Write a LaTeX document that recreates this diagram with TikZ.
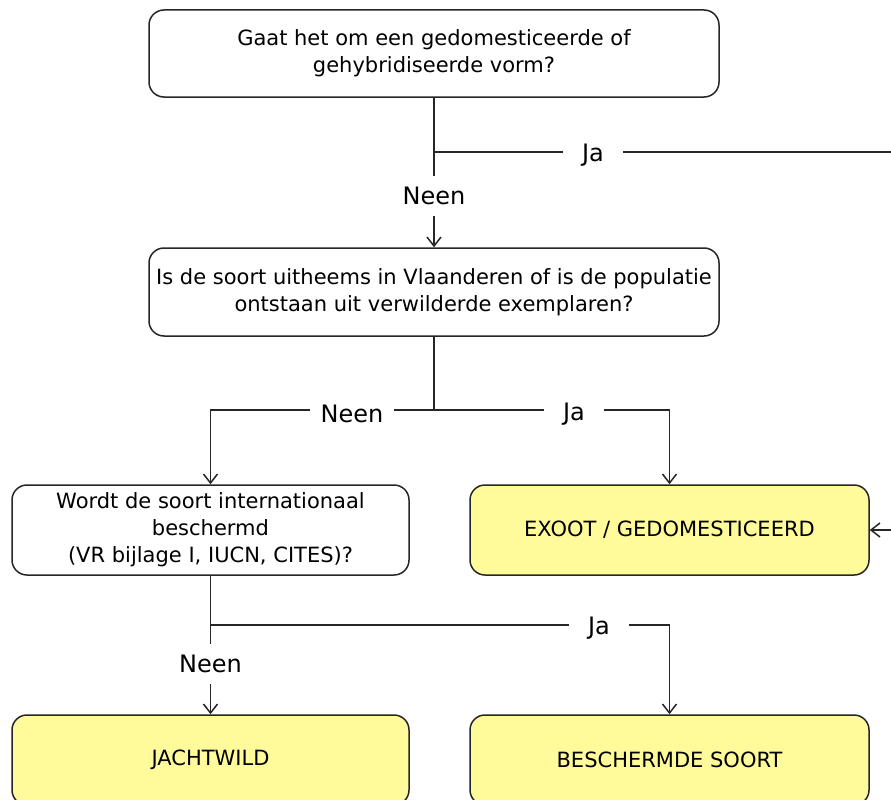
\documentclass[tikz,border=0pt]{standalone}
\usepackage{fontspec}
\setmainfont{DejaVu Sans}
\usetikzlibrary{positioning,arrows.meta}
\definecolor{geel}{HTML}{FFFB9A}

\begin{document}
\begin{tikzpicture}[x=1pt,y=-1pt,>={Straight Barb[length=9pt,width=14pt]},
  vraag/.style={draw=black!85,line width=1.5pt,rounded corners=15pt,align=center,
    inner sep=0pt,font=\fontsize{21}{27}\selectfont},
  uitkomst/.style={vraag,fill=geel},
  lbl/.style={fill=white,inner xsep=11pt,inner ysep=11pt,font=\fontsize{24}{26}\selectfont},
  ja/.style={lbl,inner xsep=19pt},
  pijl/.style={draw=black!85,line width=1.5pt}]
  \clip (0,0) rectangle (891,800);
  \fill[white] (0,0) rectangle (891,800);
  % vragen
  \node[vraag,minimum width=570pt,minimum height=87pt] (q1) at (434,53.5)
    {Gaat het om een gedomesticeerde of\\gehybridiseerde vorm?};
  \node[vraag,minimum width=570pt,minimum height=88pt] (q2) at (434,292)
    {Is de soort uitheems in Vlaanderen of is de populatie\\ontstaan uit verwilderde exemplaren?};
  \node[vraag,minimum width=397pt,minimum height=90pt] (q3) at (210.5,530)
    {Wordt de soort internationaal\\beschermd\\(VR bijlage I, IUCN, CITES)?};
  % uitkomsten
  \node[uitkomst,minimum width=399pt,minimum height=90pt] (exo) at (669.5,530)
    {EXOOT / GEDOMESTICEERD};
  \node[uitkomst,minimum width=397pt,minimum height=90pt] (jacht) at (210.5,760)
    {JACHTWILD};
  \node[uitkomst,minimum width=399pt,minimum height=90pt] (bes) at (669.5,760)
    {BESCHERMDE SOORT};
  % verbindingen
  \coordinate (s1) at (434,152);
  \coordinate (s2) at (434,410);
  \coordinate (s3) at (210.5,625);
  \draw[pijl,->] (q1.south) -- (q2.north);
  \draw[pijl,->] (s1) -- (910,152) -- (910,530) -- (exo.east);
  \draw[pijl] (q2.south) -- (s2);
  \draw[pijl,->] (s2) -| (q3.north);
  \draw[pijl,->] (s2) -| (exo.north);
  \draw[pijl,->] (q3.south) -- (jacht.north);
  \draw[pijl,->] (s3) -| (bes.north);
  % labels
  \node[lbl] (n1) at (434,196) {Neen};
  \node[ja] (j1) at (593,155) {Ja};
  \node[lbl] (n2) at (352,414) {Neen};
  \node[ja] (j2) at (574,414) {Ja};
  \node[lbl] (n3) at (210.5,664) {Neen};
  \node[ja] (j3) at (599,628) {Ja};
\end{tikzpicture}
\end{document}
